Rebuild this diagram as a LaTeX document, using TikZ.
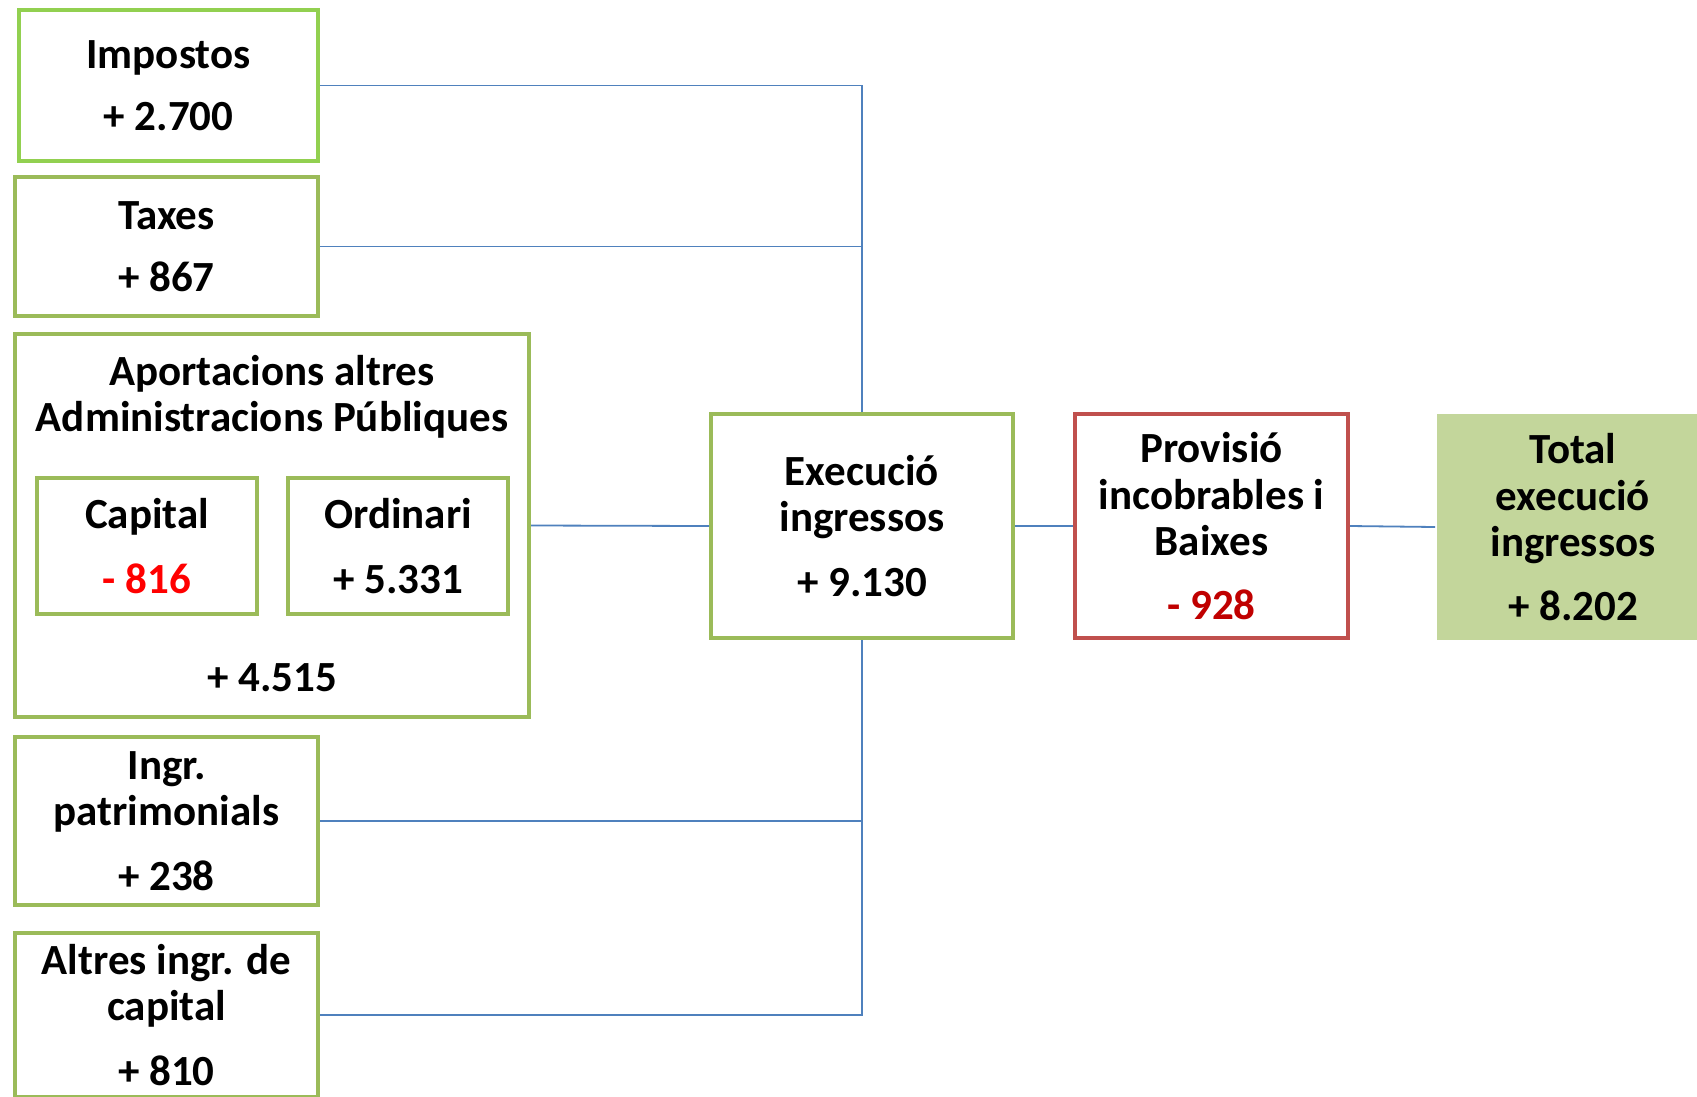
\documentclass[tikz,border=0pt]{standalone}
\usepackage{fontspec}
\setmainfont{Carlito}
\definecolor{brightgreen}{HTML}{92D050}
\definecolor{olive}{HTML}{9BBB59}
\definecolor{redborder}{HTML}{C0504D}
\definecolor{totalfill}{HTML}{C3D69B}
\definecolor{linkblue}{HTML}{4F81BD}
\definecolor{negred}{HTML}{FF0000}
\definecolor{darkred}{HTML}{C00000}
\tikzset{
  box/.style={draw=olive, line width=4bp, fill=white, align=center, inner sep=0pt,
    font=\fontsize{43bp}{46.5bp}\selectfont\bfseries},
  txt/.style={align=center, inner sep=0pt, font=\fontsize{43bp}{46.5bp}\selectfont\bfseries},
  link/.style={draw=linkblue, line width=1.8bp}
}
\begin{document}
\begin{tikzpicture}[x=1bp,y=-1bp]
\useasboundingbox (0,0) rectangle (1697,1096);
\clip (0,0) rectangle (1697,1096);
\fill[white] (0,0) rectangle (1697,1096);

\node[box, draw=brightgreen, minimum width=299bp, minimum height=151bp] (imp) at (168.5,85.5) {Impostos\\[16bp]+ 2.700};
\node[box, minimum width=303bp, minimum height=139bp] (tax) at (166.5,246.5) {Taxes\\[16bp]+ 867};
\node[box, minimum width=514bp, minimum height=383bp] (apo) at (272,525.5) {};
\node[txt] (apot) at (272,397) {Aportacions altres\\Administracions Públiques};
\node[box, minimum width=220bp, minimum height=136bp] (cap) at (147,546) {Capital\\[18bp]\textcolor{negred}{- 816}};
\node[box, minimum width=220bp, minimum height=136bp] (ord) at (398,546) {Ordinari\\[18bp]+ 5.331};
\node[txt] (apov) at (272,677.5) {+ 4.515};
\node[box, minimum width=303bp, minimum height=168bp] (ing) at (166.5,821) {Ingr.\\patrimonials\\[18bp]+ 238};
\node[box, minimum width=303bp, minimum height=164bp] (alt) at (166.5,1015) {Altres ingr. de\\capital\\[18bp]+ 810};
\node[box, minimum width=302bp, minimum height=224bp] (exe) at (862,526) {Execució\\ingressos\\[18bp]+ 9.130};
\node[box, draw=redborder, minimum width=273bp, minimum height=224bp] (pro) at (1211.5,526) {Provisió\\incobrables i\\Baixes\\[17bp]\textcolor{darkred}{- 928}};
\node[box, draw=none, fill=totalfill, minimum width=272bp, minimum height=226bp] (tot) at (1573,527) {Total\\execució\\ingressos\\[17bp]+ 8.202};

\draw[link] (imp.east) -| (exe.north);
\draw[link] (tax.east) -| (exe.north);
\draw[link] (apo.east) -- (exe.west);
\draw[link] (ing.east) -| (exe.south);
\draw[link] (alt.east) -| (exe.south);
\draw[link] (exe.east) -- (pro.west);
\draw[link] (pro.east) -- (tot.west);
\end{tikzpicture}
\end{document}
